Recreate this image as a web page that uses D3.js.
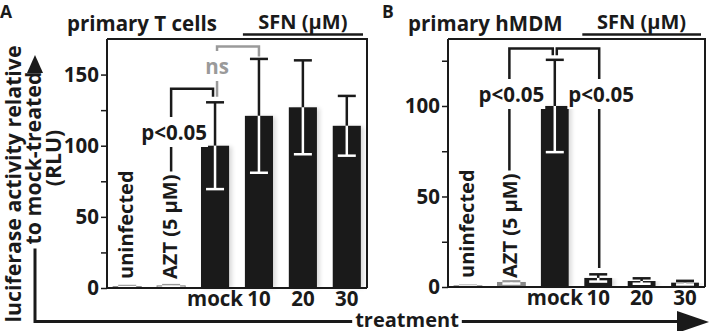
<!DOCTYPE html>
<html><head><meta charset="utf-8">
<script src="https://cdn.jsdelivr.net/npm/d3@7"></script>
<style>
html,body{margin:0;padding:0;background:#fff;}
svg text{font-family:"Open Sans",Lato,sans-serif;font-weight:bold;fill:#1a1a1a;}
</style></head>
<body><svg id="c" width="711" height="331"></svg>
<script>
// ---- data ----
const categories = ["uninfected", "AZT (5 µM)", "mock", "10", "20", "30"];
const xTickLabels = ["", "", "mock", "10", "20", "30"];
const tcellMeans = [1, 1.5, 100, 121, 127, 114];
const tcellErrors = [0.4, 0.5, 30.5, 40, 33, 21];
const hmdmMeans = [0.5, 2.5, 100, 5, 3.3, 2.4];
const hmdmErrors = [0.2, 0.6, 25.5, 2, 1.5, 1];
const tcellTicks = [0, 50, 100, 150];
const tcellMinorTicks = [25, 75, 125];
const hmdmTicks = [0, 50, 100];
const hmdmMinorTicks = [25, 75, 125];
const tcellMax = 175;
const hmdmMax = 137;
const panelTitles = ["primary T cells", "primary hMDM"];
const panelLetters = ["A", "B"];
const groupLabel = "SFN (µM)";
const yTitleLines = ["luciferase activity relative", "to mock-treated", "(RLU)"];
const xTitle = "treatment";
const sigA = [{top: 140, end: 134.5, label: "p<0.05"},
              {top: 169.7, end: 162.7, start: 134.5, label: "ns"}];
const sigB = [{top: 131.8, end: 128, label: "p<0.05"},
              {top: 131.8, end: 128, toValue: 10.5, label: "p<0.05"}];

const svg = d3.select("#c");
const INK = "#1a1a1a";
const FF = "'Open Sans'";

function textBg(g, textSel, padX, padY) {
  const b = textSel.node().getBBox();
  const tr = textSel.attr("transform");
  g.insert("rect", () => textSel.node())
    .attr("x", b.x - padX).attr("y", b.y - padY)
    .attr("width", b.width + 2 * padX).attr("height", b.height + 2 * padY)
    .attr("fill", "#fff").attr("transform", tr);
}

function panel(cfg) {
  const g = svg.append("g");
  const x = d3.scaleBand().domain(categories).range([cfg.x0, cfg.x1]).paddingInner(0.36).paddingOuter(0.14);
  const y = d3.scaleLinear().domain([0, cfg.max]).range([cfg.yb, 39]);
  const cx = i => x(categories[i]) + x.bandwidth() / 2;

  g.append("path").attr("d", `M${cfg.x0},${y(cfg.max)}H${cfg.x1}V${y(0)}`)
    .attr("fill", "none").attr("stroke", INK).attr("stroke-width", 2);

  const bars = g.append("g");
  cfg.means.forEach((m, i) => {
    if (i < 2) return;
    bars.append("rect").attr("x", x(categories[i]) + 3).attr("width", x.bandwidth())
      .attr("y", y(m) + 1).attr("height", y(0) - y(m) - 1)
      .attr("fill", "#000").attr("opacity", 0.14).attr("filter", "url(#blur)");
  });
  cfg.means.forEach((m, i) => {
    const h = Math.max(y(0) - y(m), 1.2);
    bars.append("rect").attr("x", x(categories[i])).attr("width", x.bandwidth())
      .attr("y", y(0) - h).attr("height", h)
      .attr("fill", i < 2 ? cfg.smallFill[i] : INK)
      .attr("stroke", i < 2 ? "#888" : "none").attr("stroke-width", 1);
  });
  const capW = 18;
  cfg.means.forEach((m, i) => {
    const e = cfg.errs[i], c = cx(i);
    const col = i < 2 ? "#999" : INK;
    const lo = y(Math.max(m - e, 0)), hi = y(m + e);
    g.append("line").attr("x1", c).attr("x2", c).attr("y1", y(m)).attr("y2", hi).attr("stroke", col).attr("stroke-width", 2.5);
    g.append("line").attr("x1", c - capW / 2).attr("x2", c + capW / 2).attr("y1", hi).attr("y2", hi).attr("stroke", col).attr("stroke-width", 2.5);
    g.append("line").attr("x1", c).attr("x2", c).attr("y1", y(m)).attr("y2", lo).attr("stroke", "#fff").attr("stroke-width", 2.5);
    g.append("line").attr("x1", c - capW / 2).attr("x2", c + capW / 2).attr("y1", lo).attr("y2", lo).attr("stroke", "#fff").attr("stroke-width", 2.5);
  });

  const ax = g.append("g").attr("transform", `translate(${cfg.x0},0)`)
    .call(d3.axisLeft(y).tickValues(cfg.ticks).tickSize(6).tickPadding(2).tickFormat(d3.format("d")));
  ax.select(".domain").remove();
  ax.selectAll("text").attr("font-size", 20.5).style("font-family", FF).style("font-weight", "bold").attr("fill", INK);
  ax.selectAll("line").attr("stroke", INK).attr("stroke-width", 1.5);
  g.append("g").attr("transform", `translate(${cfg.x0},0)`)
    .call(d3.axisLeft(y).tickValues(cfg.minor).tickSize(6).tickFormat(""))
    .call(s => s.select(".domain").remove())
    .selectAll("line").attr("stroke", INK).attr("stroke-width", 1.5);
  g.append("line").attr("x1", cfg.x0).attr("x2", cfg.x0).attr("y1", y(cfg.max)).attr("y2", y(0))
    .attr("stroke", INK).attr("stroke-width", 2);

  const bx = g.append("g").attr("transform", `translate(0,${y(0)})`)
    .call(d3.axisBottom(x).tickSize(0).tickPadding(3).tickFormat((d, i) => xTickLabels[i]));
  bx.select(".domain").attr("d", `M${cfg.x0},0H${cfg.x1}`).attr("stroke", INK).attr("stroke-width", 2);
  bx.selectAll("text").attr("font-size", 20.5).style("font-family", FF).style("font-weight", "bold").attr("fill", INK).attr("dy", "0.74em");

  const rot = [];
  [0, 1].forEach(i => {
    const t = g.append("text").attr("transform", `translate(${cx(i) + 6},${y(0) - 9}) rotate(-90)`)
      .attr("font-size", 20).text(categories[i]);
    rot.push(t);
  });

  g.append("text").attr("x", cfg.titleX).attr("y", 31).attr("font-size", 20.5).text(cfg.title);
  g.append("text").attr("x", cfg.letterX).attr("y", 18).attr("font-size", 17.5).text(cfg.letter);
  const sfnX = (cx(3) + cx(5)) / 2;
  g.append("text").attr("x", sfnX).attr("y", 29).attr("text-anchor", "middle").attr("font-size", 20).text(groupLabel);
  g.append("line").attr("x1", x(categories[3]) - 2).attr("x2", cfg.x1 - 4).attr("y1", 34.5).attr("y2", 34.5)
    .attr("stroke", INK).attr("stroke-width", 2.5);

  return {g, x, y, cx, rot};
}

const defs = svg.append("defs");
defs.append("filter").attr("id", "blur").attr("x", "-50%").attr("y", "-10%").attr("width", "200%").attr("height", "120%")
  .append("feGaussianBlur").attr("stdDeviation", 2);

const A = panel({x0: 107, x1: 367, yb: 288, max: tcellMax, means: tcellMeans, errs: tcellErrors,
  ticks: tcellTicks, minor: tcellMinorTicks, title: panelTitles[0], titleX: 67, letter: panelLetters[0], letterX: 0,
  smallFill: ["#e8e8e8", "#e0e0e0"]});
const B = panel({x0: 448, x1: 705, yb: 287, max: hmdmMax, means: hmdmMeans, errs: hmdmErrors,
  ticks: hmdmTicks, minor: hmdmMinorTicks, title: panelTitles[1], titleX: 408, letter: panelLetters[1], letterX: 382,
  smallFill: ["#e8e8e8", "#8a8a8a"]});

function bracketLine(g, pts, color) {
  g.append("path").attr("d", d3.line()(pts)).attr("fill", "none").attr("stroke", color).attr("stroke-width", 2.5);
}
(function () {
  const {g, y, cx, rot} = A;
  const lw = rot[1].node().getComputedTextLength();
  const xl = cx(1), xr = cx(2) - 2;
  const azTop = y(0) - 9 - lw - 3;
  bracketLine(g, [[xl, azTop], [xl, y(sigA[0].top)], [xr, y(sigA[0].top)], [xr, y(sigA[0].end)]], INK);
  const t1 = g.append("text").attr("x", xl + 3).attr("y", 140).attr("text-anchor", "middle").attr("font-size", 20.5).text(sigA[0].label);
  textBg(g, t1, 1, 1);
  const xg = cx(2) + 2, xg2 = cx(3);
  bracketLine(g, [[xg, y(sigA[1].start)], [xg, y(sigA[1].top)], [xg2, y(sigA[1].top)], [xg2, y(sigA[1].end)]], "#9a9a9a");
  const t2 = g.append("text").attr("x", xg).attr("y", 74).attr("text-anchor", "middle").attr("font-size", 20.5)
    .style("fill", "#9a9a9a").text(sigA[1].label);
  textBg(g, t2, 2, 1);
})();
(function () {
  const {g, y, cx, rot} = B;
  const lw = rot[1].node().getComputedTextLength();
  const xl = cx(1) - 2, xm1 = cx(2) - 2, xm2 = cx(2) + 2, xr = cx(3) + 1;
  const azTop = y(0) - 9 - lw - 3;
  bracketLine(g, [[xl, azTop], [xl, y(sigB[0].top)], [xm1, y(sigB[0].top)], [xm1, y(sigB[0].end)]], INK);
  bracketLine(g, [[xm2, y(sigB[1].end)], [xm2, y(sigB[1].top)], [xr, y(sigB[1].top)], [xr, y(sigB[1].toValue)]], INK);
  const t1 = g.append("text").attr("x", xl + 2).attr("y", 102).attr("text-anchor", "middle").attr("font-size", 20.5).text(sigB[0].label);
  textBg(g, t1, 1, 1);
  const t2 = g.append("text").attr("x", xr + 2).attr("y", 102).attr("text-anchor", "middle").attr("font-size", 20.5).text(sigB[1].label);
  textBg(g, t2, 1, 1);
})();

// outer axis arrows
const YFS = 21.3;
const ag = svg.append("g");
ag.append("text").attr("transform", "translate(20.5,184) rotate(-90)").attr("text-anchor", "middle").attr("font-size", YFS).text(yTitleLines[0]);
const yl2 = ag.append("text").attr("transform", "translate(41,158) rotate(-90)").attr("text-anchor", "middle").attr("font-size", YFS).text(yTitleLines[1]);
ag.append("text").attr("transform", "translate(61,158) rotate(-90)").attr("text-anchor", "middle").attr("font-size", YFS).text(yTitleLines[2]);
const xt = ag.append("text").attr("x", 407).attr("y", 326.5).attr("text-anchor", "middle").attr("font-size", 20).text(xTitle);
const w2 = yl2.node().getComputedTextLength();
const wx = xt.node().getComputedTextLength();
ag.append("path").attr("d", `M35,72V${158 - w2 / 2 - 3}M35,${158 + w2 / 2 + 4}V321.5H${407 - wx / 2 - 3}M${407 + wx / 2 + 3},321.5H690`)
  .attr("fill", "none").attr("stroke", INK).attr("stroke-width", 3);
ag.append("path").attr("d", "M27,73L35,55L43,73Z").attr("fill", INK);
ag.append("path").attr("d", "M677,311L709,322L677,333Z").attr("fill", INK);
</script></body></html>
